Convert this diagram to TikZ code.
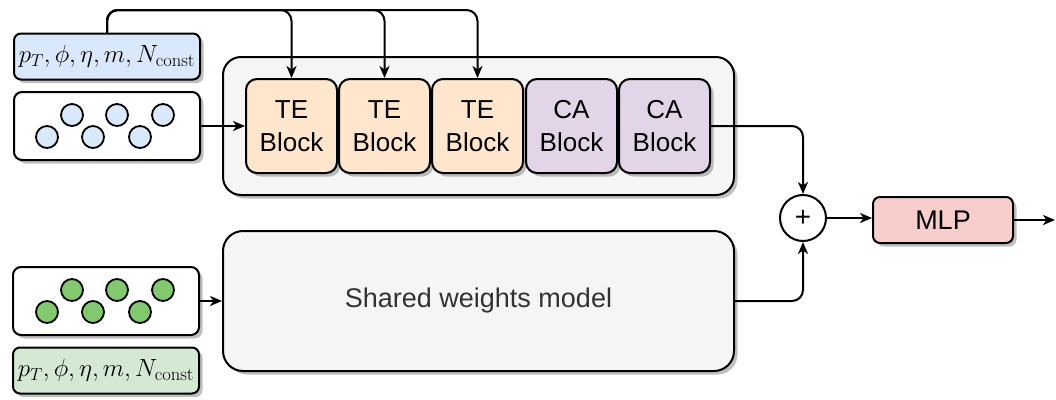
\documentclass[tikz,border=0pt]{standalone}
\usepackage{fontspec}
\newfontfamily\arialf{Liberation Sans}
\usetikzlibrary{shadows,arrows.meta,calc}
\definecolor{bluef}{HTML}{DAE8FC}
\definecolor{greenf}{HTML}{D5E8D4}
\definecolor{greenc}{HTML}{82C86E}
\definecolor{tef}{HTML}{FFE6CC}
\definecolor{caf}{HTML}{E1D5E7}
\definecolor{mlpf}{HTML}{F8CECC}
\definecolor{contf}{HTML}{F5F5F5}
\definecolor{txtg}{HTML}{333333}
\tikzset{
  shad/.style={drop shadow={shadow xshift=3.5pt, shadow yshift=-3.5pt, fill=black!50, opacity=0.5}},
  box/.style={draw=black, line width=2pt, rounded corners=#1, shad, inner sep=0pt},
  lbl/.style={box=7pt, minimum width=186pt, minimum height=46pt, font=\fontsize{26.5}{30}\selectfont},
  inbox/.style={box=8pt, fill=white, minimum width=186pt, minimum height=68pt},
  blk/.style={box=11pt, minimum width=91pt, minimum height=94pt, align=center, font=\arialf\fontsize{26}{33}\selectfont},
  dot/.style={circle, draw=black, line width=1.8pt, minimum size=22pt, inner sep=0pt},
  arr/.style={line width=2pt, -{Stealth[length=12pt,width=10pt,inset=3.5pt]}, rounded corners=11pt},
}
\begin{document}
\begin{tikzpicture}[x=1pt, y=-1pt]
\useasboundingbox (0,0) rectangle (1056,399);
% top branch
\node[lbl, fill=bluef] (lblA) at (107,56.5) {$p_T,\phi,\eta,m,N_\mathrm{const}$};
\node[inbox] (inA) at (107,126) {};
\foreach \x/\y [count=\i] in {47/137,72/115,93/137,117/115,140/137,163/115}
  \node[dot, fill=bluef] (ca\i) at (\x,\y) {};
\node[box=18pt, fill=contf, minimum width=511pt, minimum height=138pt] (cont) at (478.5,126) {};
\node[blk, fill=tef] (te1) at (291.5,126) {TE\\Block};
\node[blk, fill=tef] (te2) at (384.5,126) {TE\\Block};
\node[blk, fill=tef] (te3) at (477.5,126) {TE\\Block};
\node[blk, fill=caf] (cb1) at (571.5,126) {CA\\Block};
\node[blk, fill=caf] (cb2) at (664.5,126) {CA\\Block};
% bottom branch
\node[inbox] (inB) at (106,301) {};
\foreach \x/\y [count=\i] in {47/312,72/290,93/312,117/290,140/312,163/290}
  \node[dot, fill=greenc] (cg\i) at (\x,\y) {};
\node[lbl, fill=greenf] (lblB) at (106,370.5) {$p_T,\phi,\eta,m,N_\mathrm{const}$};
\node[box=20pt, fill=contf, minimum width=511pt, minimum height=140pt, font=\arialf\fontsize{27}{30}\selectfont, text=txtg] (shared) at (478.5,301) {Shared weights model};
% merge
\node[circle, draw=black, line width=2pt, fill=white, minimum size=46pt, inner sep=0pt, font=\arialf\fontsize{28}{30}\selectfont] (plus) at (803,218) {+};
\node[box=7pt, fill=mlpf, minimum width=140pt, minimum height=46pt, font=\arialf\fontsize{27}{30}\selectfont] (mlp) at (943,220) {MLP};
\coordinate (out) at (1055,220);
\coordinate (ytop) at (0,10);
% connectors
\draw[arr] (lblA.north) |- (ytop -| te1.north) -- (te1.north);
\draw[arr] (lblA.north) |- (ytop -| te2.north) -- (te2.north);
\draw[arr] (lblA.north) |- (ytop -| te3.north) -- (te3.north);
\draw[arr] (inA.east) -- (te1.west);
\draw[arr] (cb2.east) -| (plus.north);
\draw[arr] (inB.east) -- (shared.west);
\draw[arr] (shared.east) -| (plus.south);
\draw[arr] (plus.east) -- (mlp.west |- plus.east);
\draw[arr] (mlp.east) -- (out);
\end{tikzpicture}
\end{document}
